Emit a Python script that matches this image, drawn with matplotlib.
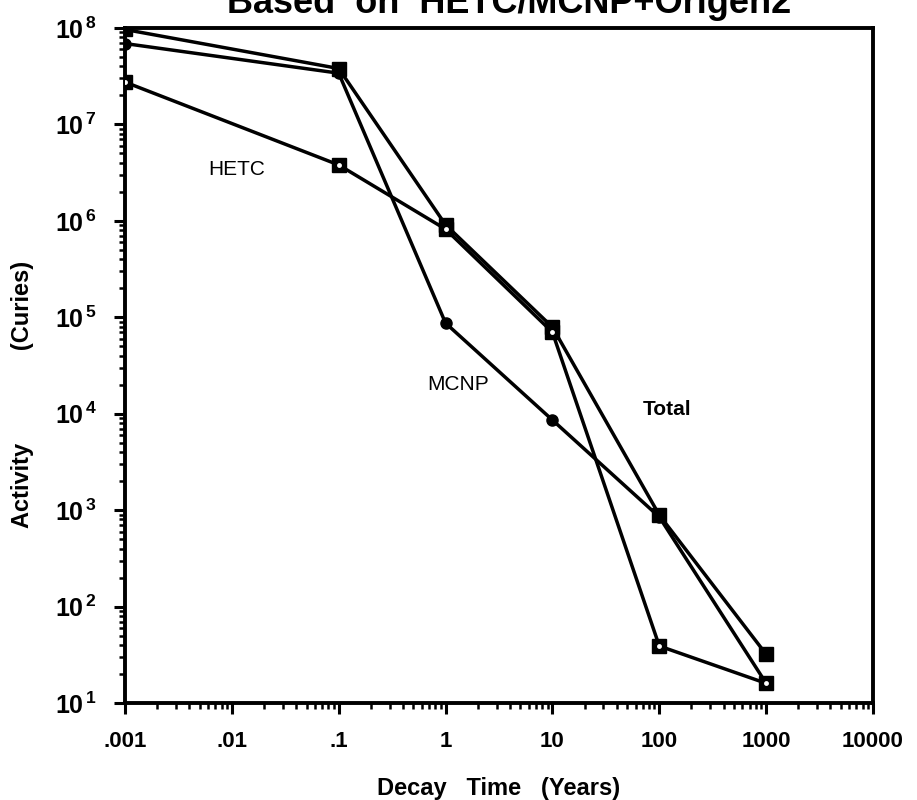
#!/usr/bin/env python3

# activity vs decay time, HETC / MCNP / total

import matplotlib
matplotlib.use("Agg")
import matplotlib.pyplot as plt
from matplotlib.ticker import LogLocator, NullFormatter


# data

decay_years = [0.001, 0.1, 1, 10, 100, 1000]
hetc = [2.75e7, 3.8e6, 8.2e5, 7.0e4, 39, 16]
mcnp = [6.9e7, 3.4e7, 8.7e4, 8.6e3, 850, 16]
total = [9.65e7, 3.8e7, 9.1e5, 7.9e4, 890, 32]

x_ticks = [0.001, 0.01, 0.1, 1, 10, 100, 1000, 10000]
x_tick_labels = [".001", ".01", ".1", "1", "10", "100", "1000", "10000"]
y_ticks = [1e1, 1e2, 1e3, 1e4, 1e5, 1e6, 1e7, 1e8]
y_tick_labels = [r"$\mathbf{10^{\,%d}}$" % e for e in range(1, 9)]


plt.rcParams['font.family'] = ['Liberation Sans', 'DejaVu Sans']
plt.rcParams['mathtext.fontset'] = 'custom'
plt.rcParams['mathtext.rm'] = 'Liberation Sans:bold'
plt.rcParams['mathtext.bf'] = 'Liberation Sans:bold'


fig = plt.figure(figsize=(9.17, 8), dpi=100)
ax = fig.add_axes([125 / 917, 1 - 703 / 800, 748 / 917, 675 / 800])

lw = 2.5
ax.plot(decay_years, total, color='black', lw=lw, marker='s', ms=10,
        mfc='black', mec='black', zorder=3)
ax.plot(decay_years, mcnp, color='black', lw=lw, marker='o', ms=8,
        mfc='black', mec='black', zorder=3)
ax.plot(decay_years, hetc, color='black', lw=lw, marker='s', ms=10,
        mfc='black', mec='black', zorder=4)
# small white centre of the HETC squares
ax.plot(decay_years, hetc, ls='none', marker='o', ms=3.5,
        mfc='white', mec='none', zorder=5)

ax.set_xscale('log')
ax.set_yscale('log')
ax.set_xlim(0.001, 10000)
ax.set_ylim(10, 1e8)

ax.set_xticks(x_ticks)
ax.set_xticklabels(x_tick_labels, fontsize=16, fontweight='bold')
ax.set_yticks(y_ticks)
ax.set_yticklabels(y_tick_labels, fontsize=18)
ax.xaxis.set_minor_locator(LogLocator(base=10, subs=range(2, 10), numticks=20))
ax.yaxis.set_minor_locator(LogLocator(base=10, subs=range(2, 10), numticks=20))
ax.xaxis.set_minor_formatter(NullFormatter())
ax.yaxis.set_minor_formatter(NullFormatter())

ax.tick_params(which='major', direction='out', length=8, width=2.2)
ax.tick_params(which='minor', direction='out', length=4, width=1.8)
ax.tick_params(axis='x', which='major', pad=12)
ax.tick_params(axis='y', which='major', pad=12)
for side in ax.spines.values():
    side.set_linewidth(2.8)

# curve labels
ax.text(0.0112, 3.4e6, "HETC", fontsize=15, ha='center', va='center')
ax.text(1.3, 2.0e4, "MCNP", fontsize=15, ha='center', va='center')
ax.text(117, 1.1e4, "Total", fontsize=15, fontweight='bold', ha='center', va='center')

ax.set_xlabel("Decay   Time   (Years)", fontsize=17, fontweight='bold')
ax.xaxis.set_label_coords(0.5, -(788 - 703) / 675)
ax.xaxis.label.set_va('center')
ax.set_ylabel("Activity" + " " * 14 + "(Curies)", fontsize=17, fontweight='bold')
ax.yaxis.set_label_coords(-(125 - 34) / 748, (703 - 394) / 675)

# title, mostly clipped at the top in the scan
fig.text(0.555, 1 - 13 / 800, "Based  on  HETC/MCNP+Origen2", fontsize=26,
         fontweight='bold', ha='center', va='baseline')

fig.savefig("out.png", dpi=100)
